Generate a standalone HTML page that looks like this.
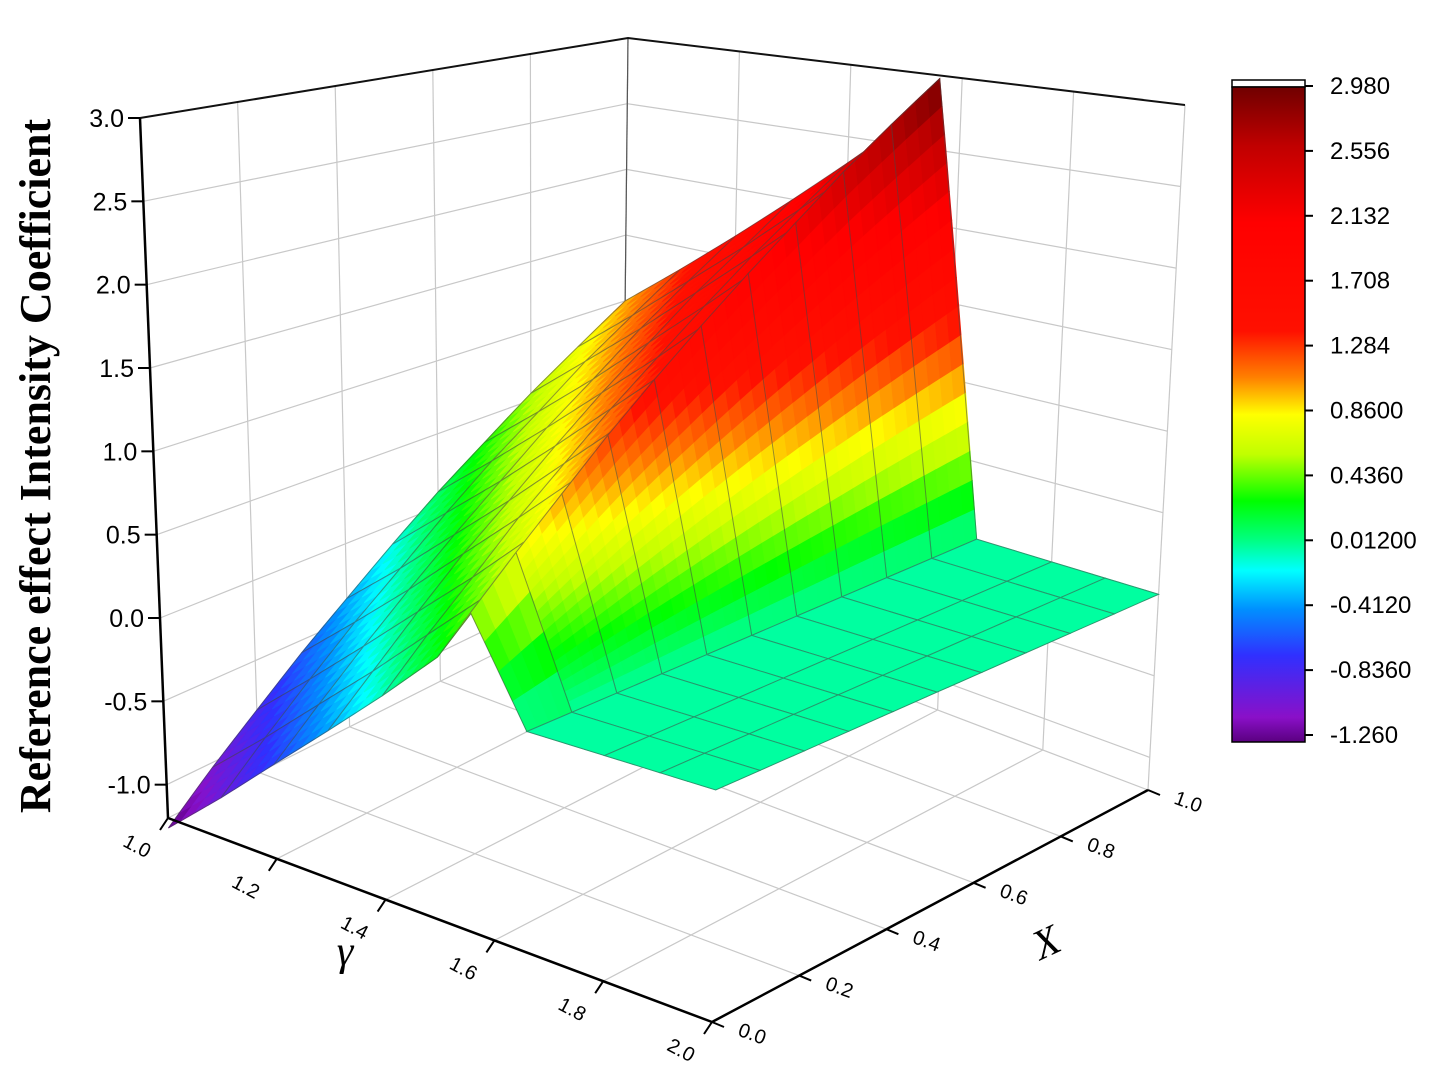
<!DOCTYPE html>
<html><head><meta charset="utf-8"><style>
html,body{margin:0;padding:0;background:#fff;}
svg{display:block;}
text{font-family:"Liberation Sans",sans-serif;}
</style></head><body>
<svg id="chart" width="1441" height="1076" viewBox="0 0 1441 1076" xmlns="http://www.w3.org/2000/svg">
<defs>
<linearGradient id="cbGrad" x1="0" y1="0" x2="0" y2="1"></linearGradient>
</defs>
<g id="walls"></g>
<g id="surface"></g>
<g id="axes"></g>
<g id="colorbar"></g>
<text transform="translate(50,466) rotate(-90)" text-anchor="middle" style="font-family:'Liberation Serif',serif;font-weight:bold;font-size:44px;">Reference effect Intensity Coefficient</text>
<text x="345" y="965" text-anchor="middle" style="font-family:'Liberation Serif',serif;font-style:italic;font-size:42px;">γ</text>
<text transform="translate(1052,955) rotate(-25)" text-anchor="middle" style="font-family:'Liberation Serif',serif;font-style:italic;font-size:42px;">X</text>
</svg>
<script>
const gammaVals=[1.0,1.1,1.2,1.3,1.4,1.5,1.56,1.66,1.8,1.9,2.0];
const xVals=[0,0.1,0.2,0.3,0.4,0.5,0.6,0.7,0.8,0.9,1.0];
// zData[xIndex][gammaIndex]
const zData=[
[-1.26,-0.96,-0.65,-0.35,-0.05,0.26,0.56,0,0,0,0],
[-1.03,-0.73,-0.42,-0.12,0.19,0.49,0.80,0,0,0,0],
[-0.81,-0.50,-0.19,0.12,0.42,0.73,1.04,0,0,0,0],
[-0.58,-0.27,0.04,0.36,0.67,0.98,1.29,0,0,0,0],
[-0.36,-0.05,0.27,0.58,0.90,1.21,1.53,0,0,0,0],
[-0.13,0.19,0.50,0.82,1.14,1.45,1.77,0,0,0,0],
[0.10,0.42,0.74,1.06,1.37,1.69,2.01,0,0,0,0],
[0.32,0.64,0.96,1.29,1.61,1.93,2.25,0,0,0,0],
[0.55,0.88,1.20,1.53,1.85,2.17,2.50,0,0,0,0],
[0.77,1.10,1.43,1.75,2.08,2.41,2.74,0,0,0,0],
[1.00,1.33,1.66,1.99,2.32,2.65,2.98,0,0,0,0]];
const zTicks=[-1.0,-0.5,0.0,0.5,1.0,1.5,2.0,2.5,3.0];
const zTickLabels=["-1.0","-0.5","0.0","0.5","1.0","1.5","2.0","2.5","3.0"];
const gTicks=[1.0,1.2,1.4,1.6,1.8,2.0];
const gTickLabels=["1.0","1.2","1.4","1.6","1.8","2.0"];
const xTicks=[0.0,0.2,0.4,0.6,0.8,1.0];
const xTickLabels=["0.0","0.2","0.4","0.6","0.8","1.0"];
const cbLabels=["2.980","2.556","2.132","1.708","1.284","0.8600","0.4360","0.01200","-0.4120","-0.8360","-1.260"];

const NS="http://www.w3.org/2000/svg";
const zf=-1.2, zt=3.0;
const A=[168,818],B=[712,1022],C=[1148,790],D=[622,590];
const At=[140,118],Bt=[725,210],Ct=[1185,105],Dt=[628,38];
function bil(P00,P10,P11,P01,u,v){
  return [P00[0]*(1-u)*(1-v)+P10[0]*u*(1-v)+P11[0]*u*v+P01[0]*(1-u)*v,
          P00[1]*(1-u)*(1-v)+P10[1]*u*(1-v)+P11[1]*u*v+P01[1]*(1-u)*v];
}
function proj(g,x,z){
  const u=g-1, v=x;
  const f=bil(A,B,C,D,u,v), t=bil(At,Bt,Ct,Dt,u,v);
  const s=(z-zf)/(zt-zf);
  return [f[0]+(t[0]-f[0])*s, f[1]+(t[1]-f[1])*s];
}
const stops=[[-1.26,[90,0,128]],[-1.1,[138,16,200]],[-0.7,[48,48,255]],[-0.4,[0,144,255]],[-0.15,[0,255,255]],[0.05,[0,255,128]],[0.3,[0,255,0]],[0.6,[192,255,0]],[0.86,[255,255,0]],[1.1,[255,128,0]],[1.4,[255,16,0]],[2.1,[255,0,0]],[2.6,[192,0,0]],[2.98,[112,0,0]]];
function cmap(z){
  if(z<=stops[0][0])return 'rgb('+stops[0][1]+')';
  for(let i=1;i<stops.length;i++){
    if(z<=stops[i][0]){
      const a=stops[i-1],b=stops[i],f=(z-a[0])/(b[0]-a[0]);
      return 'rgb('+[0,1,2].map(k=>Math.round(a[1][k]+(b[1][k]-a[1][k])*f)).join(',')+')';
    }
  }
  return 'rgb('+stops[stops.length-1][1]+')';
}
function el(tag,attrs,parent){
  const e=document.createElementNS(NS,tag);
  for(const k in attrs)e.setAttribute(k,attrs[k]);
  parent.appendChild(e);return e;
}
function pts(a){return a.map(p=>p[0].toFixed(1)+','+p[1].toFixed(1)).join(' ');}

const walls=document.getElementById('walls');
const gridC='#c8c8c8';
for(const z of zTicks){
  const l=el('polyline',{points:pts([proj(1,0,z),proj(1,1,z),proj(2,1,z)]),fill:'none',stroke:gridC,'stroke-width':1.2},walls);
  
  
}
for(let i=0;i<=5;i++){
  const v=i*0.2;
  const l1=el('line',{x1:proj(1,v,zf)[0],y1:proj(1,v,zf)[1],x2:proj(1,v,zt)[0],y2:proj(1,v,zt)[1],stroke:gridC,'stroke-width':1.2},walls);
  
  
  const g=1+i*0.2;
  const l2=el('line',{x1:proj(g,1,zf)[0],y1:proj(g,1,zf)[1],x2:proj(g,1,zt)[0],y2:proj(g,1,zt)[1],stroke:gridC,'stroke-width':1.2},walls);
  
  
  const f1=el('line',{x1:proj(g,0,zf)[0],y1:proj(g,0,zf)[1],x2:proj(g,1,zf)[0],y2:proj(g,1,zf)[1],stroke:gridC,'stroke-width':1.2},walls);
  
  
  const f2=el('line',{x1:proj(1,v,zf)[0],y1:proj(1,v,zf)[1],x2:proj(2,v,zf)[0],y2:proj(2,v,zf)[1],stroke:gridC,'stroke-width':1.2},walls);
  
  
}
const back=el('line',{x1:D[0],y1:D[1],x2:Dt[0],y2:Dt[1],stroke:'#555','stroke-width':1.2},walls);


const topEdge=el('polyline',{points:pts([proj(1,0,zt),proj(1,1,zt),proj(2,1,zt)]),fill:'none',stroke:'#111','stroke-width':2},walls);



const surf=document.getElementById('surface');
const cells=[];
for(let xi=0;xi<xVals.length-1;xi++){
  for(let gi=0;gi<gammaVals.length-1;gi++){
    const gc=(gammaVals[gi]+gammaVals[gi+1])/2, xc=(xVals[xi]+xVals[xi+1])/2;
    cells.push({xi,gi,depth:(2-gc)+xc*0.9});
  }
}
cells.sort((a,b)=>b.depth-a.depth);
for(const c of cells){
  const {xi,gi}=c;
  const g0=gammaVals[gi],g1=gammaVals[gi+1],x0=xVals[xi],x1=xVals[xi+1];
  const z00=zData[xi][gi],z10=zData[xi][gi+1],z01=zData[xi+1][gi],z11=zData[xi+1][gi+1];
  const grp=el('g',{},surf);
  
  
  const range=Math.max(z00,z10,z01,z11)-Math.min(z00,z10,z01,z11);
  const nu=range>1?16:4, nv=4;
  const zz=(a,b)=>z00*(1-a)*(1-b)+z10*a*(1-b)+z11*a*b+z01*(1-a)*b;
  const P=(a,b)=>proj(g0+(g1-g0)*a,x0+(x1-x0)*b,zz(a,b));
  for(let i=0;i<nu;i++)for(let j=0;j<nv;j++){
    const a0=i/nu,a1=(i+1)/nu,b0=j/nv,b1=(j+1)/nv;
    const col=cmap(zz((a0+a1)/2,(b0+b1)/2));
    el('polygon',{points:pts([P(a0,b0),P(a1,b0),P(a1,b1),P(a0,b1)]),fill:col,stroke:col,'stroke-width':0.8},grp);
  }
  el('polygon',{points:pts([P(0,0),P(1,0),P(1,1),P(0,1)]),fill:'none',stroke:'rgba(70,70,70,0.55)','stroke-width':1},grp);
}

const axes=document.getElementById('axes');
const za=el('line',{x1:proj(1,0,zf)[0],y1:proj(1,0,zf)[1],x2:proj(1,0,zt)[0],y2:proj(1,0,zt)[1],stroke:'#000','stroke-width':2.5},axes);


const ga=el('line',{x1:A[0],y1:A[1],x2:B[0],y2:B[1],stroke:'#000','stroke-width':2.5},axes);


const xa=el('line',{x1:B[0],y1:B[1],x2:C[0],y2:C[1],stroke:'#000','stroke-width':2.5},axes);


zTicks.forEach((z,i)=>{
  const p=proj(1,0,z);
  const t=el('line',{x1:p[0]-12,y1:p[1],x2:p[0],y2:p[1],stroke:'#000','stroke-width':2},axes);
  
  
  const tx=el('text',{x:p[0]-16,y:p[1]+9,'text-anchor':'end','font-size':25},axes);
  
  
  tx.textContent=zTickLabels[i];
});
gTicks.forEach((g,i)=>{
  const p=proj(g,0,zf);
  const t=el('line',{x1:p[0],y1:p[1],x2:p[0]-8,y2:p[1]+12,stroke:'#000','stroke-width':2},axes);
  
  
  const tx=el('text',{transform:'translate('+(p[0]-34)+','+(p[1]+34)+') rotate(28)','text-anchor':'middle','font-size':20},axes);
  
  
  tx.textContent=gTickLabels[i];
});
xTicks.forEach((x,i)=>{
  const p=proj(2,x,zf);
  const t=el('line',{x1:p[0],y1:p[1],x2:p[0]+12,y2:p[1]+5,stroke:'#000','stroke-width':2},axes);
  
  
  const tx=el('text',{transform:'translate('+(p[0]+38)+','+(p[1]+18)+') rotate(20)','text-anchor':'middle','font-size':20},axes);
  
  
  tx.textContent=xTickLabels[i];
});

const grad=document.getElementById('cbGrad');
const zmax=2.98,zmin=-1.26;
for(let i=stops.length-1;i>=0;i--){
  el('stop',{offset:((zmax-stops[i][0])/(zmax-zmin)).toFixed(4),'stop-color':'rgb('+stops[i][1]+')'},grad);
}
const cb=document.getElementById('colorbar');
const cbTop=87,cbBot=742,cbX=1232,cbW=73;
const wb=el('rect',{x:cbX,y:80,width:cbW,height:cbTop-80,fill:'#fff',stroke:'#000','stroke-width':1.5},cb);


const cr=el('rect',{x:cbX,y:cbTop,width:cbW,height:cbBot-cbTop,fill:'url(#cbGrad)',stroke:'#000','stroke-width':1.5},cb);


cbLabels.forEach((lab,i)=>{
  const y=86+i*(735-86)/(cbLabels.length-1);
  const t=el('line',{x1:cbX+cbW,y1:y,x2:cbX+cbW+8,y2:y,stroke:'#000','stroke-width':2},cb);
  
  
  const tx=el('text',{x:1330,y:y+8,'font-size':24},cb);
  
  
  tx.textContent=lab;
});
</script>
</body></html>
